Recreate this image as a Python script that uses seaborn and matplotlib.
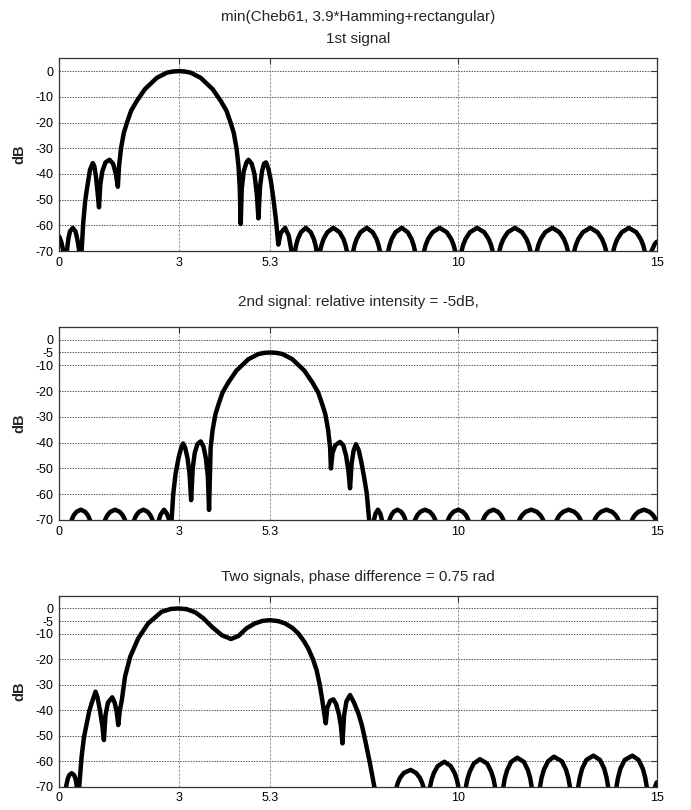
import matplotlib
matplotlib.use("Agg")
import matplotlib.pyplot as plt
import pandas as pd
import seaborn as sns

# ---------------- data ----------------
x_ticks = [0, 3, 5.3, 10, 15]
x_tick_labels = ["0", "3", "5.3", "10", "15"]
y_ticks_top = [0, -10, -20, -30, -40, -50, -60, -70]
y_ticks_lower = [0, -5, -10, -20, -30, -40, -50, -60, -70]

titles_top = ["min(Cheb61, 3.9*Hamming+rectangular)", "1st signal"]
title_mid = "2nd signal: relative intensity = -5dB,"
title_bot = "Two signals, phase difference = 0.75 rad"

# panel 1 : first signal (values below -70 are nulls, clipped by the axes)
p1_x = [0.00, 0.05, 0.10, 0.145, 0.19, 0.23, 0.27, 0.34, 0.41, 0.46, 0.50, 0.53,
        0.56, 0.60, 0.65, 0.69, 0.77, 0.84, 0.88, 0.92, 0.96, 0.997,
        1.03, 1.08, 1.16, 1.26, 1.35, 1.42, 1.47,
        1.50, 1.55, 1.62, 1.70, 1.80, 1.95, 2.15, 2.45, 2.70, 2.85, 3.00, 3.15, 3.30,
        3.55, 3.85, 4.05, 4.20, 4.30, 4.38, 4.45, 4.50, 4.53, 4.555,
        4.58, 4.63, 4.70, 4.75, 4.83, 4.90, 4.96, 5.00,
        5.04, 5.09, 5.14, 5.19, 5.25, 5.31, 5.37, 5.44, 5.50,
        5.56, 5.67, 5.76, 5.83, 5.875,
        5.92, 5.947, 5.99, 6.066, 6.19, 6.314, 6.39, 6.433, 6.46, 6.505,
        6.55, 6.584, 6.637, 6.731, 6.88, 7.039, 7.133, 7.186, 7.22, 7.30,
        7.38, 7.414, 7.467, 7.561, 7.72, 7.869, 7.963, 8.016, 8.05, 8.155,
        8.26, 8.294, 8.347, 8.441, 8.60, 8.749, 8.843, 8.896, 8.93, 9.045,
        9.16, 9.199, 9.261, 9.371, 9.55, 9.729, 9.839, 9.901, 9.94, 10.02,
        10.10, 10.139, 10.201, 10.311, 10.49, 10.669, 10.779, 10.841, 10.88, 10.965,
        11.05, 11.089, 11.151, 11.261, 11.44, 11.619, 11.729, 11.791, 11.83, 11.91,
        11.99, 12.029, 12.091, 12.201, 12.38, 12.559, 12.669, 12.731, 12.77, 12.85,
        12.93, 12.97, 13.034, 13.146, 13.33, 13.514, 13.626, 13.69, 13.73, 13.82,
        13.91, 13.95, 14.013, 14.123, 14.30, 14.487, 14.597, 14.66, 14.70, 14.785,
        14.87, 14.95, 15.00]
p1_db = [-64.4, -66.5, -70, -90, -70, -65, -62.3, -61, -62.5, -66, -70, -90,
         -70, -59.2, -50.5, -46.2, -38.4, -35.8, -37, -41, -47, -53,
         -44, -39, -35.5, -34.5, -36, -40, -45,
         -37, -30, -24, -20, -15.5, -11.5, -7, -2.6, -0.6, -0.15, 0, -0.15, -0.6,
         -2.6, -7, -11.5, -15.5, -20, -24, -30, -37, -45, -59.5,
         -46, -39, -35.5, -34.5, -36, -40, -48, -57.3,
         -45, -39, -36, -35.5, -38, -42.5, -49, -57.9, -67.5,
         -63, -61, -64, -70, -90,
         -70, -67.7, -65.3, -62.7, -61, -62.7, -65.3, -67.7, -70, -90,
         -70, -67.7, -65.3, -62.7, -61, -62.7, -65.3, -67.7, -70, -90,
         -70, -67.7, -65.3, -62.7, -61, -62.7, -65.3, -67.7, -70, -90,
         -70, -67.7, -65.3, -62.7, -61, -62.7, -65.3, -67.7, -70, -90,
         -70, -67.7, -65.3, -62.7, -61, -62.7, -65.3, -67.7, -70, -90,
         -70, -67.7, -65.3, -62.7, -61, -62.7, -65.3, -67.7, -70, -90,
         -70, -67.7, -65.3, -62.7, -61, -62.7, -65.3, -67.7, -70, -90,
         -70, -67.7, -65.3, -62.7, -61, -62.7, -65.3, -67.7, -70, -90,
         -70, -67.7, -65.3, -62.7, -61, -62.7, -65.3, -67.7, -70, -90,
         -70, -67.7, -65.3, -62.7, -61, -62.7, -65.3, -67.7, -70, -90,
         -70, -67.3, -66.4]

# panel 2 : second signal, -5 dB, centred at 5.3
p2_x = [0.00,
        0.31, 0.333, 0.37, 0.434, 0.54, 0.646, 0.71, 0.747, 0.77, 0.96,
        1.15, 1.175, 1.215, 1.285, 1.40, 1.515, 1.585, 1.625, 1.65, 1.765,
        1.88, 1.903, 1.94, 2.004, 2.11, 2.216, 2.28, 2.317, 2.34, 2.42,
        2.50, 2.54, 2.63, 2.70, 2.76, 2.79,
        2.82, 2.86, 2.92, 3.00, 3.06, 3.11, 3.16, 3.22, 3.27, 3.31,
        3.35, 3.40, 3.47, 3.55, 3.62, 3.68, 3.73, 3.76,
        3.80, 3.85, 3.92, 4.00, 4.10, 4.25, 4.45, 4.75, 5.00, 5.15, 5.30, 5.45, 5.60,
        5.85, 6.15, 6.35, 6.50, 6.60, 6.68, 6.75, 6.80, 6.82,
        6.86, 6.93, 7.05, 7.13, 7.20, 7.26, 7.30,
        7.34, 7.39, 7.45, 7.52, 7.59, 7.66, 7.72, 7.78, 7.85,
        7.90, 7.94, 8.00, 8.06, 8.10, 8.20,
        8.29, 8.31, 8.342, 8.398, 8.49, 8.582, 8.638, 8.67, 8.69, 8.81,
        8.93, 8.956, 8.996, 9.068, 9.18, 9.302, 9.374, 9.414, 9.44, 9.60,
        9.76, 9.786, 9.826, 9.898, 10.02, 10.132, 10.204, 10.244, 10.27, 10.455,
        10.64, 10.666, 10.706, 10.778, 10.90, 11.012, 11.084, 11.124, 11.15, 11.35,
        11.55, 11.58, 11.628, 11.712, 11.85, 11.988, 12.072, 12.12, 12.15, 12.32,
        12.49, 12.52, 12.568, 12.652, 12.79, 12.928, 13.012, 13.06, 13.09, 13.265,
        13.44, 13.47, 13.518, 13.602, 13.74, 13.878, 13.962, 14.01, 14.04, 14.21,
        14.38, 14.41, 14.458, 14.542, 14.68, 14.818, 14.902, 14.95, 14.98, 15.00]
p2_db = [-95,
         -70, -69.1, -68.0, -66.8, -66, -66.8, -68.0, -69.1, -70, -90,
         -70, -69.1, -68.0, -66.8, -66, -66.8, -68.0, -69.1, -70, -90,
         -70, -69.1, -68.0, -66.8, -66, -66.8, -68.0, -69.1, -70, -90,
         -70, -68, -66, -67.5, -70, -90,
         -70, -60, -52, -45.5, -42, -40.3, -42, -46, -52, -62.3,
         -50, -44, -40.5, -39.5, -41.5, -46, -53, -66.1,
         -42, -35, -29, -25, -20.5, -16.5, -12, -7.6, -5.6, -5.15, -5, -5.15, -5.6,
         -7.6, -12, -16.5, -20.5, -25, -29, -35, -42, -50,
         -44, -41, -39.7, -41, -45, -51, -57.7,
         -48, -43, -40.6, -43, -48, -54, -59.7, -70, -90,
         -70, -67.5, -66, -67.5, -70, -90,
         -70, -69.1, -68.0, -66.8, -66, -66.8, -68.0, -69.1, -70, -90,
         -70, -69.1, -68.0, -66.8, -66, -66.8, -68.0, -69.1, -70, -90,
         -70, -69.1, -68.0, -66.8, -66, -66.8, -68.0, -69.1, -70, -90,
         -70, -69.1, -68.0, -66.8, -66, -66.8, -68.0, -69.1, -70, -90,
         -70, -69.1, -68.0, -66.8, -66, -66.8, -68.0, -69.1, -70, -90,
         -70, -69.1, -68.0, -66.8, -66, -66.8, -68.0, -69.1, -70, -90,
         -70, -69.1, -68.0, -66.8, -66, -66.8, -68.0, -69.1, -70, -90,
         -70, -69.1, -68.0, -66.8, -66, -66.8, -68.0, -69.1, -70, -90]

# panel 3 : two signals, phase difference 0.75 rad
p3_x = [0.00, 0.17, 0.21, 0.25, 0.31, 0.37, 0.41, 0.44, 0.47,
        0.50, 0.56, 0.62, 0.69, 0.75, 0.81, 0.91, 0.96, 1.02, 1.08, 1.12,
        1.16, 1.22, 1.33, 1.39, 1.44, 1.48,
        1.52, 1.57, 1.65, 1.78, 1.98, 2.23, 2.57, 2.80, 3.00, 3.20, 3.41, 3.62, 3.83,
        4.08, 4.31, 4.50, 4.70, 4.91, 5.10, 5.29, 5.50, 5.67, 5.85, 6.00, 6.14, 6.25,
        6.37, 6.46, 6.54, 6.59, 6.69,
        6.73, 6.80, 6.88, 6.95, 7.02, 7.07, 7.11,
        7.15, 7.21, 7.30, 7.40, 7.51, 7.60, 7.68, 7.80, 7.91, 8.20,
        8.47, 8.504, 8.557, 8.651, 8.82, 8.959, 9.053, 9.106, 9.14, 9.225,
        9.31, 9.346, 9.402, 9.502, 9.67, 9.828, 9.928, 9.984, 10.02, 10.115,
        10.21, 10.247, 10.305, 10.407, 10.56, 10.743, 10.845, 10.903, 10.94, 11.045,
        11.15, 11.186, 11.242, 11.342, 11.50, 11.668, 11.768, 11.824, 11.86, 11.965,
        12.07, 12.108, 12.168, 12.273, 12.42, 12.617, 12.722, 12.782, 12.82, 12.925,
        13.03, 13.068, 13.128, 13.233, 13.41, 13.577, 13.682, 13.742, 13.78, 13.885,
        13.99, 14.028, 14.089, 14.195, 14.39, 14.545, 14.651, 14.712, 14.75, 14.85,
        14.96, 15.00]
p3_db = [-80, -70, -67, -65.4, -64.7, -65.4, -67, -70, -90,
         -70, -58.2, -50.5, -45.1, -40.5, -37.3, -32.7, -35, -40, -46, -51.7,
         -42, -37, -34.9, -37, -40.5, -45.8,
         -40, -36, -26.8, -19.0, -11.8, -5.9, -1.3, -0.2, 0, -0.3, -1.5, -3.9, -7.2,
         -10.5, -12.0, -10.8, -7.8, -5.9, -4.9, -4.6, -5.0, -5.9, -7.6, -9.8, -12.8, -15.7,
         -20, -24.2, -30, -34.7, -45.1,
         -39, -36.3, -35.7, -37.5, -41.5, -46, -53.0,
         -42, -36.5, -34.0, -37, -41.2, -46, -51.7, -60.8, -70, -90,
         -70, -68.35, -66.5, -64.6, -63.4, -64.6, -66.5, -68.35, -70, -90,
         -70, -67.35, -64.7, -61.9, -60.2, -61.9, -64.7, -67.35, -70, -90,
         -70, -67.0, -64.1, -60.9, -59.2, -60.9, -64.1, -67.0, -70, -90,
         -70, -66.7, -63.6, -60.3, -58.6, -60.3, -63.6, -66.7, -70, -90,
         -70, -66.6, -63.3, -60.0, -58.2, -60.0, -63.3, -66.6, -70, -90,
         -70, -66.5, -62.9, -59.5, -57.8, -59.5, -62.9, -66.5, -70, -90,
         -70, -66.5, -62.9, -59.5, -57.8, -59.5, -62.9, -66.5, -70, -90,
         -70, -68.3]

assert len(p1_x) == len(p1_db), (len(p1_x), len(p1_db))
assert len(p2_x) == len(p2_db), (len(p2_x), len(p2_db))
assert len(p3_x) == len(p3_db), (len(p3_x), len(p3_db))

# ---------------- figure ----------------
sns.set_theme(style="white")
plt.rcParams["font.family"] = ["Liberation Sans", "DejaVu Sans"]

W_PX, H_PX = 691, 810
fig = plt.figure(figsize=(W_PX / 100, H_PX / 100), dpi=100)

left_px, right_px = 59.3, 656.7
boxes = [(58.3, 251.0), (326.7, 520.0), (595.7, 786.7)]
datasets = [(p1_x, p1_db, y_ticks_top), (p2_x, p2_db, y_ticks_lower), (p3_x, p3_db, y_ticks_lower)]

for (top, bot), (xs, ys, yt) in zip(boxes, datasets):
    ax = fig.add_axes([left_px / W_PX, 1 - bot / H_PX,
                       (right_px - left_px) / W_PX, (bot - top) / H_PX])
    df = pd.DataFrame({"f": xs, "dB": ys})
    sns.lineplot(data=df, x="f", y="dB", ax=ax, color="black", linewidth=3.2,
                 sort=False, estimator=None)
    ax.set_xlim(0, 15)
    ax.set_ylim(-70, 5)
    ax.set_xticks(x_ticks)
    ax.set_xticklabels(x_tick_labels)
    ax.set_yticks(yt)
    ax.set_yticklabels([str(v) for v in yt])
    ax.grid(True, axis="y", color="#555555", linestyle=(0, (1.5, 1.2)), linewidth=0.7)
    ax.grid(True, axis="x", color="#999999", linestyle=(0, (2.5, 1.5)), linewidth=0.7)
    for s in ax.spines.values():
        s.set_color("#333333")
        s.set_linewidth(0.9)
    ax.tick_params(direction="in", length=4, width=0.8, top=True, right=True,
                   labelsize=9, color="#333333", labelcolor="black", pad=4)
    ax.set_xlabel("")
    ax.set_ylabel("dB", fontsize=10.5, fontweight="bold")
    ax.yaxis.set_label_coords((26 - left_px) / (right_px - left_px), 0.5)

cx = (left_px + right_px) / 2 / W_PX
fig.text(cx, 1 - 16.7 / H_PX, titles_top[0], ha="center", va="center", fontsize=11)
fig.text(cx, 1 - 39.0 / H_PX, titles_top[1], ha="center", va="center", fontsize=11)
fig.text(cx, 1 - 301.7 / H_PX, title_mid, ha="center", va="center", fontsize=11)
fig.text(cx, 1 - 576.7 / H_PX, title_bot, ha="center", va="center", fontsize=11)

fig.savefig("out.png", dpi=100)
